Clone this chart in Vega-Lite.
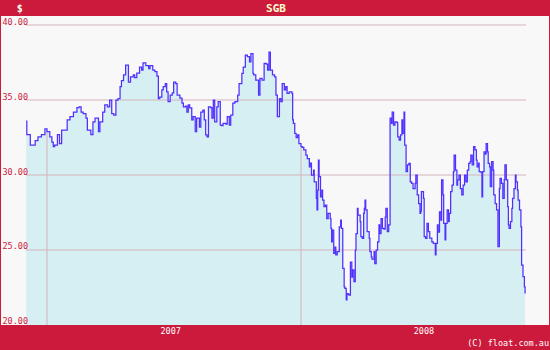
{
  "$schema": "https://vega.github.io/schema/vega-lite/v6.json",
  "width": 550,
  "height": 350,
  "padding": 0,
  "autosize": {"type": "none"},
  "background": "#f8f8f8",
  "config": {"view": {"stroke": "#cc1a3c", "strokeWidth": 2}},
  "datasets": {
    "prices": [
      {"date": "2006-12-02", "price": 33.6},
      {"date": "2006-12-03", "price": 32.7},
      {"date": "2006-12-08", "price": 32.0},
      {"date": "2006-12-15", "price": 32.3},
      {"date": "2006-12-19", "price": 32.55},
      {"date": "2006-12-24", "price": 32.7},
      {"date": "2006-12-29", "price": 33.07},
      {"date": "2007-01-01", "price": 32.9},
      {"date": "2007-01-05", "price": 32.55},
      {"date": "2007-01-08", "price": 32.2},
      {"date": "2007-01-10", "price": 31.9},
      {"date": "2007-01-12", "price": 32.0},
      {"date": "2007-01-16", "price": 32.7},
      {"date": "2007-01-19", "price": 32.1},
      {"date": "2007-01-22", "price": 33.0},
      {"date": "2007-01-27", "price": 33.0},
      {"date": "2007-01-30", "price": 33.67},
      {"date": "2007-02-03", "price": 33.9},
      {"date": "2007-02-08", "price": 34.2},
      {"date": "2007-02-13", "price": 34.5},
      {"date": "2007-02-16", "price": 34.55},
      {"date": "2007-02-19", "price": 34.2},
      {"date": "2007-02-22", "price": 34.1},
      {"date": "2007-02-26", "price": 33.8},
      {"date": "2007-02-28", "price": 33.0},
      {"date": "2007-03-05", "price": 32.7},
      {"date": "2007-03-08", "price": 33.55},
      {"date": "2007-03-11", "price": 33.8},
      {"date": "2007-03-16", "price": 32.9},
      {"date": "2007-03-18", "price": 33.55},
      {"date": "2007-03-22", "price": 34.2},
      {"date": "2007-03-25", "price": 34.67},
      {"date": "2007-03-29", "price": 34.55},
      {"date": "2007-04-01", "price": 35.0},
      {"date": "2007-04-04", "price": 34.1},
      {"date": "2007-04-07", "price": 34.0},
      {"date": "2007-04-10", "price": 35.0},
      {"date": "2007-04-13", "price": 35.1},
      {"date": "2007-04-16", "price": 35.9},
      {"date": "2007-04-18", "price": 36.3},
      {"date": "2007-04-21", "price": 36.67},
      {"date": "2007-04-24", "price": 37.33},
      {"date": "2007-04-28", "price": 36.2},
      {"date": "2007-05-01", "price": 36.55},
      {"date": "2007-05-05", "price": 36.67},
      {"date": "2007-05-07", "price": 36.5},
      {"date": "2007-05-10", "price": 36.8},
      {"date": "2007-05-14", "price": 37.2},
      {"date": "2007-05-17", "price": 37.0},
      {"date": "2007-05-19", "price": 37.47},
      {"date": "2007-05-23", "price": 37.3},
      {"date": "2007-05-27", "price": 37.1},
      {"date": "2007-05-29", "price": 37.3},
      {"date": "2007-06-02", "price": 37.0},
      {"date": "2007-06-05", "price": 36.9},
      {"date": "2007-06-08", "price": 36.6},
      {"date": "2007-06-10", "price": 35.1},
      {"date": "2007-06-12", "price": 35.2},
      {"date": "2007-06-15", "price": 35.67},
      {"date": "2007-06-17", "price": 35.9},
      {"date": "2007-06-20", "price": 36.1},
      {"date": "2007-06-22", "price": 35.55},
      {"date": "2007-06-24", "price": 34.9},
      {"date": "2007-06-27", "price": 35.33},
      {"date": "2007-06-30", "price": 35.47},
      {"date": "2007-07-02", "price": 36.2},
      {"date": "2007-07-05", "price": 36.1},
      {"date": "2007-07-07", "price": 35.33},
      {"date": "2007-07-11", "price": 35.13},
      {"date": "2007-07-14", "price": 34.8},
      {"date": "2007-07-16", "price": 34.55},
      {"date": "2007-07-19", "price": 34.6},
      {"date": "2007-07-21", "price": 34.2},
      {"date": "2007-07-23", "price": 34.67},
      {"date": "2007-07-25", "price": 34.47},
      {"date": "2007-07-28", "price": 33.67},
      {"date": "2007-07-30", "price": 33.9},
      {"date": "2007-08-02", "price": 32.9},
      {"date": "2007-08-04", "price": 33.8},
      {"date": "2007-08-08", "price": 33.2},
      {"date": "2007-08-10", "price": 34.2},
      {"date": "2007-08-13", "price": 34.33},
      {"date": "2007-08-15", "price": 33.67},
      {"date": "2007-08-17", "price": 32.67},
      {"date": "2007-08-19", "price": 32.55},
      {"date": "2007-08-21", "price": 34.55},
      {"date": "2007-08-24", "price": 34.5},
      {"date": "2007-08-26", "price": 33.8},
      {"date": "2007-08-28", "price": 35.0},
      {"date": "2007-08-30", "price": 33.55},
      {"date": "2007-09-02", "price": 34.55},
      {"date": "2007-09-04", "price": 34.9},
      {"date": "2007-09-07", "price": 33.33},
      {"date": "2007-09-09", "price": 33.3},
      {"date": "2007-09-11", "price": 33.45},
      {"date": "2007-09-15", "price": 33.4},
      {"date": "2007-09-17", "price": 33.9},
      {"date": "2007-09-20", "price": 33.33},
      {"date": "2007-09-22", "price": 34.0},
      {"date": "2007-09-25", "price": 34.8},
      {"date": "2007-09-28", "price": 34.9},
      {"date": "2007-10-02", "price": 35.33},
      {"date": "2007-10-04", "price": 36.1},
      {"date": "2007-10-08", "price": 36.78},
      {"date": "2007-10-10", "price": 37.2},
      {"date": "2007-10-13", "price": 38.0},
      {"date": "2007-10-16", "price": 37.9},
      {"date": "2007-10-19", "price": 37.55},
      {"date": "2007-10-21", "price": 38.1},
      {"date": "2007-10-24", "price": 36.78},
      {"date": "2007-10-25", "price": 36.67},
      {"date": "2007-10-28", "price": 36.33},
      {"date": "2007-11-01", "price": 35.33},
      {"date": "2007-11-03", "price": 36.45},
      {"date": "2007-11-06", "price": 36.33},
      {"date": "2007-11-09", "price": 37.45},
      {"date": "2007-11-12", "price": 37.4},
      {"date": "2007-11-14", "price": 37.0},
      {"date": "2007-11-16", "price": 38.2},
      {"date": "2007-11-18", "price": 37.0},
      {"date": "2007-11-21", "price": 36.67},
      {"date": "2007-11-24", "price": 36.55},
      {"date": "2007-11-26", "price": 35.33},
      {"date": "2007-11-28", "price": 33.9},
      {"date": "2007-12-01", "price": 35.1},
      {"date": "2007-12-03", "price": 34.9},
      {"date": "2007-12-05", "price": 36.1},
      {"date": "2007-12-08", "price": 35.67},
      {"date": "2007-12-10", "price": 35.9},
      {"date": "2007-12-12", "price": 35.45},
      {"date": "2007-12-15", "price": 35.55},
      {"date": "2007-12-19", "price": 35.45},
      {"date": "2007-12-20", "price": 33.67},
      {"date": "2007-12-21", "price": 33.45},
      {"date": "2007-12-23", "price": 32.78},
      {"date": "2007-12-25", "price": 32.5},
      {"date": "2007-12-27", "price": 32.67},
      {"date": "2007-12-29", "price": 32.1},
      {"date": "2008-01-01", "price": 31.9},
      {"date": "2008-01-03", "price": 31.85},
      {"date": "2008-01-05", "price": 31.67},
      {"date": "2008-01-08", "price": 31.33},
      {"date": "2008-01-10", "price": 31.1},
      {"date": "2008-01-13", "price": 30.55},
      {"date": "2008-01-14", "price": 30.8},
      {"date": "2008-01-16", "price": 30.0},
      {"date": "2008-01-19", "price": 30.33},
      {"date": "2008-01-20", "price": 29.55},
      {"date": "2008-01-23", "price": 28.45},
      {"date": "2008-01-24", "price": 27.67},
      {"date": "2008-01-25", "price": 29.0},
      {"date": "2008-01-26", "price": 31.0},
      {"date": "2008-01-27", "price": 29.9},
      {"date": "2008-01-29", "price": 28.55},
      {"date": "2008-01-31", "price": 29.0},
      {"date": "2008-02-01", "price": 28.33},
      {"date": "2008-02-03", "price": 27.9},
      {"date": "2008-02-05", "price": 28.0},
      {"date": "2008-02-07", "price": 27.1},
      {"date": "2008-02-09", "price": 27.45},
      {"date": "2008-02-12", "price": 27.1},
      {"date": "2008-02-13", "price": 26.45},
      {"date": "2008-02-14", "price": 25.55},
      {"date": "2008-02-15", "price": 26.33},
      {"date": "2008-02-17", "price": 24.78},
      {"date": "2008-02-19", "price": 25.2},
      {"date": "2008-02-20", "price": 24.67},
      {"date": "2008-02-22", "price": 24.9},
      {"date": "2008-02-25", "price": 26.55},
      {"date": "2008-02-27", "price": 27.0},
      {"date": "2008-02-28", "price": 26.45},
      {"date": "2008-03-01", "price": 23.78},
      {"date": "2008-03-03", "price": 22.55},
      {"date": "2008-03-04", "price": 22.45},
      {"date": "2008-03-06", "price": 21.67},
      {"date": "2008-03-07", "price": 22.1},
      {"date": "2008-03-09", "price": 22.05},
      {"date": "2008-03-10", "price": 22.0},
      {"date": "2008-03-12", "price": 24.2},
      {"date": "2008-03-14", "price": 23.2},
      {"date": "2008-03-15", "price": 23.67},
      {"date": "2008-03-17", "price": 22.9},
      {"date": "2008-03-19", "price": 25.0},
      {"date": "2008-03-20", "price": 26.1},
      {"date": "2008-03-22", "price": 27.78},
      {"date": "2008-03-23", "price": 27.33},
      {"date": "2008-03-26", "price": 26.9},
      {"date": "2008-03-27", "price": 25.9},
      {"date": "2008-03-29", "price": 25.78},
      {"date": "2008-03-31", "price": 27.45},
      {"date": "2008-04-01", "price": 27.78},
      {"date": "2008-04-02", "price": 28.33},
      {"date": "2008-04-03", "price": 27.67},
      {"date": "2008-04-05", "price": 26.22},
      {"date": "2008-04-08", "price": 25.78},
      {"date": "2008-04-09", "price": 24.9},
      {"date": "2008-04-11", "price": 24.55},
      {"date": "2008-04-12", "price": 24.4},
      {"date": "2008-04-15", "price": 24.9},
      {"date": "2008-04-16", "price": 24.1},
      {"date": "2008-04-18", "price": 25.0},
      {"date": "2008-04-20", "price": 25.55},
      {"date": "2008-04-22", "price": 26.67},
      {"date": "2008-04-23", "price": 26.1},
      {"date": "2008-04-25", "price": 27.1},
      {"date": "2008-04-27", "price": 26.45},
      {"date": "2008-04-29", "price": 26.4},
      {"date": "2008-05-01", "price": 27.2},
      {"date": "2008-05-02", "price": 27.78},
      {"date": "2008-05-04", "price": 26.22},
      {"date": "2008-05-06", "price": 26.67},
      {"date": "2008-05-08", "price": 33.8},
      {"date": "2008-05-10", "price": 33.45},
      {"date": "2008-05-11", "price": 34.2},
      {"date": "2008-05-13", "price": 33.33},
      {"date": "2008-05-15", "price": 33.55},
      {"date": "2008-05-18", "price": 33.5},
      {"date": "2008-05-19", "price": 32.55},
      {"date": "2008-05-21", "price": 32.33},
      {"date": "2008-05-23", "price": 32.67},
      {"date": "2008-05-25", "price": 33.67},
      {"date": "2008-05-26", "price": 32.78},
      {"date": "2008-05-28", "price": 34.2},
      {"date": "2008-05-29", "price": 32.0},
      {"date": "2008-05-31", "price": 30.22},
      {"date": "2008-06-02", "price": 30.67},
      {"date": "2008-06-04", "price": 30.78},
      {"date": "2008-06-06", "price": 29.55},
      {"date": "2008-06-08", "price": 29.45},
      {"date": "2008-06-10", "price": 29.1},
      {"date": "2008-06-13", "price": 29.45},
      {"date": "2008-06-14", "price": 30.0},
      {"date": "2008-06-16", "price": 28.67},
      {"date": "2008-06-18", "price": 28.1},
      {"date": "2008-06-20", "price": 27.45},
      {"date": "2008-06-21", "price": 27.6},
      {"date": "2008-06-22", "price": 28.9},
      {"date": "2008-06-25", "price": 28.45},
      {"date": "2008-06-26", "price": 25.9},
      {"date": "2008-06-28", "price": 25.78},
      {"date": "2008-06-30", "price": 26.78},
      {"date": "2008-07-02", "price": 26.22},
      {"date": "2008-07-04", "price": 25.8},
      {"date": "2008-07-07", "price": 25.55},
      {"date": "2008-07-09", "price": 25.45},
      {"date": "2008-07-12", "price": 24.67},
      {"date": "2008-07-13", "price": 25.45},
      {"date": "2008-07-15", "price": 26.67},
      {"date": "2008-07-16", "price": 26.2},
      {"date": "2008-07-18", "price": 27.55},
      {"date": "2008-07-20", "price": 27.0},
      {"date": "2008-07-21", "price": 29.67},
      {"date": "2008-07-23", "price": 28.67},
      {"date": "2008-07-24", "price": 26.78},
      {"date": "2008-07-26", "price": 25.67},
      {"date": "2008-07-27", "price": 26.78},
      {"date": "2008-07-29", "price": 27.67},
      {"date": "2008-07-31", "price": 26.9},
      {"date": "2008-08-01", "price": 27.45},
      {"date": "2008-08-03", "price": 28.9},
      {"date": "2008-08-05", "price": 29.33},
      {"date": "2008-08-07", "price": 30.22},
      {"date": "2008-08-08", "price": 31.33},
      {"date": "2008-08-10", "price": 30.33},
      {"date": "2008-08-12", "price": 29.33},
      {"date": "2008-08-13", "price": 29.67},
      {"date": "2008-08-15", "price": 30.0},
      {"date": "2008-08-17", "price": 29.1},
      {"date": "2008-08-19", "price": 28.67},
      {"date": "2008-08-21", "price": 29.33},
      {"date": "2008-08-23", "price": 30.0},
      {"date": "2008-08-25", "price": 29.55},
      {"date": "2008-08-27", "price": 30.33},
      {"date": "2008-08-29", "price": 30.78},
      {"date": "2008-08-31", "price": 30.9},
      {"date": "2008-09-01", "price": 31.33},
      {"date": "2008-09-03", "price": 30.67},
      {"date": "2008-09-05", "price": 31.9},
      {"date": "2008-09-07", "price": 31.67},
      {"date": "2008-09-09", "price": 31.0},
      {"date": "2008-09-10", "price": 30.55},
      {"date": "2008-09-12", "price": 30.8},
      {"date": "2008-09-13", "price": 30.22},
      {"date": "2008-09-15", "price": 30.2},
      {"date": "2008-09-17", "price": 28.55},
      {"date": "2008-09-18", "price": 30.22},
      {"date": "2008-09-20", "price": 31.55},
      {"date": "2008-09-22", "price": 31.4},
      {"date": "2008-09-23", "price": 32.1},
      {"date": "2008-09-25", "price": 31.55},
      {"date": "2008-09-26", "price": 30.78},
      {"date": "2008-09-28", "price": 30.55},
      {"date": "2008-09-29", "price": 29.22},
      {"date": "2008-10-01", "price": 30.9},
      {"date": "2008-10-03", "price": 30.33},
      {"date": "2008-10-04", "price": 28.67},
      {"date": "2008-10-06", "price": 28.1},
      {"date": "2008-10-08", "price": 27.67},
      {"date": "2008-10-10", "price": 25.22},
      {"date": "2008-10-12", "price": 29.1},
      {"date": "2008-10-13", "price": 29.78},
      {"date": "2008-10-15", "price": 29.45},
      {"date": "2008-10-17", "price": 28.45},
      {"date": "2008-10-19", "price": 29.7},
      {"date": "2008-10-20", "price": 30.67},
      {"date": "2008-10-22", "price": 29.67},
      {"date": "2008-10-24", "price": 27.9},
      {"date": "2008-10-25", "price": 26.67},
      {"date": "2008-10-26", "price": 26.45},
      {"date": "2008-10-28", "price": 26.9},
      {"date": "2008-10-30", "price": 27.78},
      {"date": "2008-10-31", "price": 28.45},
      {"date": "2008-11-02", "price": 29.1},
      {"date": "2008-11-04", "price": 30.0},
      {"date": "2008-11-05", "price": 29.55},
      {"date": "2008-11-07", "price": 29.0},
      {"date": "2008-11-08", "price": 28.33},
      {"date": "2008-11-10", "price": 27.67},
      {"date": "2008-11-12", "price": 26.55},
      {"date": "2008-11-13", "price": 24.0},
      {"date": "2008-11-15", "price": 23.22},
      {"date": "2008-11-17", "price": 22.55},
      {"date": "2008-11-18", "price": 22.1}
    ],
    "grid": [{"level": 25}, {"level": 30}, {"level": 35}, {"level": 40}],
    "years": [{"date": "2007-01-01", "price": 32.9}, {"date": "2008-01-01", "price": 31.9}]
  },
  "layer": [
    {
      "data": {"name": "prices"},
      "mark": {"type": "area", "interpolate": "step-after", "color": "#d6eff3"},
      "encoding": {
        "x": {
          "field": "date", "type": "temporal",
          "scale": {"type": "utc", "domain": [
            {"year": 2006, "month": 10, "date": 25, "hours": 11, "utc": true},
            {"year": 2008, "month": 12, "date": 23, "hours": 19, "utc": true}
          ]},
          "axis": {
            "title": null,
            "values": [
              {"year": 2007, "month": 6, "date": 27, "utc": true},
              {"year": 2008, "month": 6, "date": 25, "utc": true}
            ],
            "labelExpr": "utcFormat(datum.value, '%Y')",
            "ticks": false, "tickSize": 0, "domain": false, "grid": false,
            "labelPadding": -16.5, "labelBaseline": "alphabetic", "labelAlign": "center",
            "labelColor": "#ffffff", "labelFont": "DejaVu Sans Mono", "labelFontSize": 8.5,
            "labelOverlap": false, "labelBound": false, "labelFlush": false, "zindex": 2
          }
        },
        "y": {
          "field": "price", "type": "quantitative", "stack": null,
          "scale": {"domain": [18.3333, 41.6667], "zero": false, "nice": false},
          "axis": {
            "title": null,
            "values": [20, 25, 30, 35, 40],
            "format": ".2f",
            "ticks": false, "tickSize": 0, "domain": false, "grid": false,
            "labelAlign": "left", "labelBaseline": "alphabetic", "labelPadding": -2, "labelOffset": -1,
            "labelColor": "#cc1a3c", "labelFont": "DejaVu Sans Mono", "labelFontSize": 8.5,
            "labelOverlap": false, "labelBound": false, "labelFlush": false, "zindex": 2
          }
        }
      }
    },
    {
      "data": {"name": "grid"},
      "mark": {"type": "rule", "color": "#d6b3ba", "strokeWidth": 1},
      "encoding": {
        "y": {"field": "level", "type": "quantitative"},
        "x": {"datum": {"year": 2006, "month": 12, "date": 2, "utc": true}},
        "x2": {"datum": {"year": 2008, "month": 11, "date": 19, "hours": 8, "utc": true}}
      }
    },
    {
      "data": {"name": "years"},
      "mark": {"type": "rule", "color": "#d6b3ba", "strokeWidth": 1},
      "encoding": {
        "x": {"field": "date", "type": "temporal"},
        "y": {"field": "price", "type": "quantitative"},
        "y2": {"datum": 20}
      }
    },
    {
      "data": {"name": "prices"},
      "mark": {"type": "line", "interpolate": "step-after", "color": "#5030ff", "strokeWidth": 1.25},
      "encoding": {
        "x": {"field": "date", "type": "temporal"},
        "y": {"field": "price", "type": "quantitative"}
      }
    },
    {
      "data": {"values": [{}]},
      "mark": {"type": "rect", "color": "#cc1a3c"},
      "encoding": {
        "y": {"datum": 41.6667},
        "y2": {"datum": 40.6}
      }
    },
    {
      "data": {"values": [{}]},
      "mark": {"type": "rect", "color": "#cc1a3c"},
      "encoding": {
        "y": {"datum": 20},
        "y2": {"datum": 18.3333}
      }
    },
    {
      "data": {"values": [{}]},
      "mark": {"type": "text", "align": "center", "baseline": "middle", "font": "DejaVu Sans Mono", "fontSize": 11, "fontWeight": "bold", "color": "#ffffcc"},
      "encoding": {
        "x": {"datum": {"year": 2007, "month": 11, "date": 26, "utc": true}},
        "y": {"datum": 41.1},
        "text": {"value": "SGB"}
      }
    },
    {
      "data": {"values": [{}]},
      "mark": {"type": "text", "align": "center", "baseline": "middle", "font": "DejaVu Sans Mono", "fontSize": 10, "fontWeight": "bold", "color": "#ffffee"},
      "encoding": {
        "x": {"datum": {"year": 2006, "month": 11, "date": 23, "utc": true}},
        "y": {"datum": 41.1},
        "text": {"value": "$"}
      }
    },
    {
      "data": {"values": [{}]},
      "mark": {"type": "text", "align": "right", "baseline": "alphabetic", "font": "DejaVu Sans Mono", "fontSize": 8.5, "color": "#ffffff"},
      "encoding": {
        "x": {"datum": {"year": 2008, "month": 12, "date": 22, "hours": 12, "utc": true}},
        "y": {"datum": 18.567},
        "text": {"value": "(C) float.com.au"}
      }
    }
  ]
}
